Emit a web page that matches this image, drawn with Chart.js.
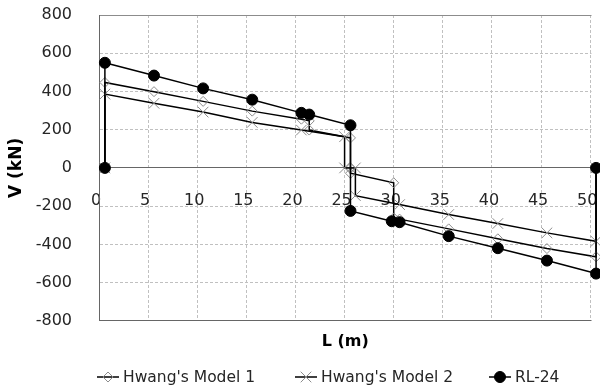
<!DOCTYPE html>
<html>
<head>
<meta charset="utf-8">
<script src="https://cdn.jsdelivr.net/npm/chart.js@4"></script>
<style>
html, body { margin: 0; padding: 0; background: #ffffff; }
canvas { display: block; }
</style>
</head>
<body>
<canvas id="chart" width="600" height="387"></canvas>
<script>
// ---- data ----
const xTicks = [0, 5, 10, 15, 20, 25, 30, 35, 40, 45, 50];
const yTicks = [-800, -600, -400, -200, 0, 200, 400, 600, 800];
const seriesNames = ["Hwang's Model 1", "Hwang's Model 2", "RL-24"];
const xTitle = "L (m)";
const yTitle = "V (kN)";

const model1L = [0.6, 0.6, 5.6, 10.6, 15.6, 20.6, 21.4, 21.4, 25.6, 25.6, 25.6, 30.0, 30.0, 30.6, 35.6, 40.6, 45.6, 50.6, 50.6];
const model1V = [0, 447, 399, 348, 297, 255, 246, 198, 157, 0, -28, -78, -262, -268, -319, -371, -422, -465, 0];

const model2L = [0.6, 0.6, 5.6, 10.6, 15.6, 20.6, 25.0, 25.0, 26.1, 26.1, 30.6, 35.6, 40.6, 45.6, 50.6, 50.6];
const model2V = [0, 386, 338, 292, 238, 198, 163, 0, 0, -145, -192, -244, -291, -340, -384, 0];

const rlL = [0.6, 0.6, 5.6, 10.6, 15.6, 20.6, 21.4, 25.6, 25.6, 29.8, 30.6, 35.6, 40.6, 45.6, 50.6, 50.6];
const rlV = [0, 550, 483, 416, 357, 288, 279, 223, -225, -279, -284, -357, -420, -485, -553, 0];

// ---- helpers ----
const pts = (xs, ys) => xs.map((x, i) => ({ x: x, y: ys[i] }));
const FONT = "'DejaVu Sans', 'Noto Sans', sans-serif";
Chart.defaults.font.family = FONT;

function drawMarker(ctx, ds, x, y) {
  ctx.save();
  ctx.lineWidth = ds.pointBorderWidth || 1;
  ctx.strokeStyle = ds.pointBorderColor;
  ctx.fillStyle = ds.pointBackgroundColor;
  const r = ds.pointRadius;
  ctx.beginPath();
  if (ds.pointStyle === 'rectRot') {
    ctx.moveTo(x - r, y); ctx.lineTo(x, y - r); ctx.lineTo(x + r, y); ctx.lineTo(x, y + r); ctx.closePath();
    ctx.fill(); ctx.stroke();
  } else if (ds.pointStyle === 'crossRot') {
    const o = r * Math.SQRT1_2;
    ctx.moveTo(x - o, y - o); ctx.lineTo(x + o, y + o);
    ctx.moveTo(x + o, y - o); ctx.lineTo(x - o, y + o);
    ctx.stroke();
  } else {
    ctx.arc(x, y, r, 0, Math.PI * 2); ctx.closePath();
    ctx.fill(); ctx.stroke();
  }
  ctx.restore();
}

// the x axis crosses at V = 0; keep its pixel range equal to the full plot width
const axisSpanPlugin = {
  id: 'axisSpan',
  afterLayout(chart) {
    const s = chart.scales.x;
    const a = chart.chartArea;
    s.left = a.left;
    s.right = chart.width;
    s.width = s.right - s.left;
    s.configure();
  }
};

const legendPlugin = {
  id: 'excelLegend',
  afterDraw(chart) {
    const ctx = chart.ctx;
    const y = 377;
    const starts = [97, 295, 489];
    chart.data.datasets.forEach((ds, i) => {
      const x0 = starts[i];
      ctx.save();
      ctx.strokeStyle = ds.borderColor;
      ctx.lineWidth = ds.borderWidth;
      ctx.beginPath(); ctx.moveTo(x0, y); ctx.lineTo(x0 + 22, y); ctx.stroke();
      drawMarker(ctx, ds, x0 + 11, y);
      ctx.fillStyle = '#262626';
      ctx.font = "15.5px " + FONT;
      ctx.textBaseline = 'middle';
      ctx.textAlign = 'left';
      ctx.fillText(ds.label, x0 + 26, y + 1);
      ctx.restore();
    });
  }
};

const GRID = '#c0c0c0';
const AXIS = '#666666';

new Chart(document.getElementById('chart'), {
  type: 'scatter',
  data: {
    datasets: [
      {
        label: seriesNames[0], data: pts(model1L, model1V), showLine: true,
        borderColor: '#000000', borderWidth: 1.5, tension: 0,
        pointStyle: 'rectRot', pointRadius: 5, pointBorderWidth: 1,
        pointBorderColor: '#8c8c8c', pointBackgroundColor: 'rgba(0,0,0,0)',
        order: 2, clip: false
      },
      {
        label: seriesNames[1], data: pts(model2L, model2V), showLine: true,
        borderColor: '#000000', borderWidth: 1.5, tension: 0,
        pointStyle: 'crossRot', pointRadius: 7.5, pointBorderWidth: 1,
        pointBorderColor: '#8c8c8c', pointBackgroundColor: 'rgba(0,0,0,0)',
        order: 1, clip: false
      },
      {
        label: seriesNames[2], data: pts(rlL, rlV), showLine: true,
        borderColor: '#000000', borderWidth: 1.5, tension: 0,
        pointStyle: 'circle', pointRadius: 5.5, pointBorderWidth: 1,
        pointBorderColor: '#000000', pointBackgroundColor: '#000000',
        order: 0, clip: false
      }
    ]
  },
  options: {
    responsive: false,
    animation: false,
    events: [],
    layout: { padding: { top: 15, right: 0, bottom: 36, left: 0 } },
    plugins: {
      legend: { display: false },
      tooltip: { enabled: false },
      title: {
        display: true, text: xTitle, position: 'bottom', fullSize: false,
        color: '#000000', font: { family: FONT, size: 16, weight: 'bold' },
        padding: { top: 11, bottom: 0 }
      }
    },
    scales: {
      x: {
        type: 'linear', position: { y: 0 }, min: 0, max: 51,
        afterBuildTicks: (s) => { s.ticks = xTicks.map(v => ({ value: v })); },
        afterFit: (s) => { s.paddingLeft = 0; s.paddingRight = 0; s.paddingTop = 0; s.paddingBottom = 0; },
        grid: {
          color: (c) => (c.tick && c.tick.value === 0) ? AXIS : GRID,
          lineWidth: 1, drawTicks: true, tickLength: 23, tickColor: 'rgba(0,0,0,0)'
        },
        border: {
          display: true, color: AXIS, width: 1,
          dash: (c) => (c.tick && c.tick.value !== 0) ? [3, 2] : []
        },
        ticks: {
          padding: 0, labelOffset: -3, maxRotation: 0, autoSkip: false,
          color: '#262626', font: { family: FONT, size: 16 }
        },
        title: { display: false }
      },
      y: {
        type: 'linear', position: 'left', min: -800, max: 800,
        afterBuildTicks: (s) => { s.ticks = yTicks.map(v => ({ value: v })); },
        afterFit: (s) => { s.width = 99; s.paddingTop = 0; s.paddingBottom = 0; },
        grid: {
          color: (c) => {
            const v = c.tick ? c.tick.value : null;
            if (v === 800) return '#8c8c8c';
            if (v === -800 || v === 0) return AXIS;
            return GRID;
          },
          lineWidth: 1, drawTicks: false
        },
        border: {
          display: true, color: AXIS, width: 1,
          dash: (c) => {
            const v = c.tick ? c.tick.value : null;
            return (v === null || v === 800 || v === -800 || v === 0) ? [] : [3, 2];
          }
        },
        ticks: {
          padding: 27, color: '#262626', font: { family: FONT, size: 16 }
        },
        title: {
          display: true, text: yTitle, color: '#000000',
          font: { family: FONT, size: 17, weight: 'bold' },
          padding: { top: 6, bottom: 0 }
        }
      }
    }
  },
  plugins: [axisSpanPlugin, legendPlugin]
});
</script>
</body>
</html>
